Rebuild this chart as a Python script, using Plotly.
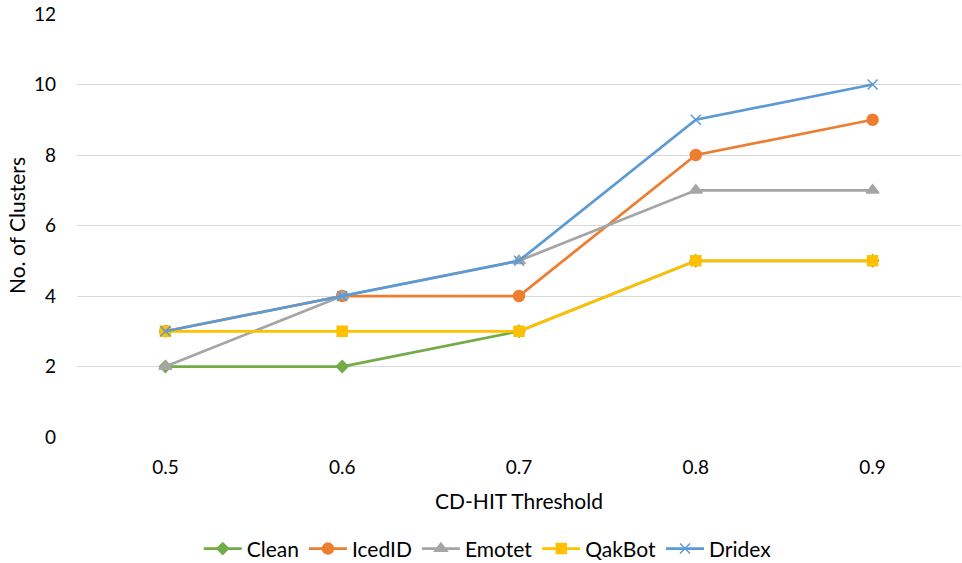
import plotly.graph_objects as go

thresholds = ["0.5", "0.6", "0.7", "0.8", "0.9"]
clean = [2, 2, 3, 5, 5]
icedid = [3, 4, 4, 8, 9]
emotet = [2, 4, 5, 7, 7]
qakbot = [3, 3, 3, 5, 5]
dridex = [3, 4, 5, 9, 10]

series = [
    ("Clean", clean, "#70AD47", "diamond", 9),
    ("IcedID", icedid, "#ED7D31", "circle", 11),
    ("Emotet", emotet, "#A5A5A5", "triangle-up", 11),
    ("QakBot", qakbot, "#FFC000", "square", 10),
    ("Dridex", dridex, "#5B9BD5", "x-thin", 10),
]

fig = go.Figure()
for name, vals, color, sym, size in series:
    fig.add_trace(go.Scatter(
        x=thresholds, y=vals, name=name, mode="lines+markers",
        line=dict(color=color, width=2.75),
        marker=dict(symbol=sym, size=size, color=color,
                    line=dict(color=color, width=1.5)),
    ))

family = "Lato, Carlito, sans-serif"
fig.update_layout(
    width=962, height=563,
    margin=dict(l=77, r=1, t=14, b=126),
    paper_bgcolor="white", plot_bgcolor="white",
    font=dict(family=family, size=18, color="#000000"),
    showlegend=True,
    legend=dict(orientation="h", xref="container", x=0.507, xanchor="center",
                yref="container", y=0.025, yanchor="middle",
                font=dict(family=family, size=21, color="#000000"),
                itemwidth=38, tracegroupgap=0),
    xaxis=dict(type="category", range=[-0.5, 4.5], showgrid=False,
               showline=False, zeroline=False, ticks="",
               tickfont=dict(size=19), ticklabelstandoff=17,
               title=dict(text="CD-HIT Threshold", standoff=17,
                          font=dict(size=21))),
    yaxis=dict(range=[0, 12], dtick=2, showgrid=True, gridcolor="#D9D9D9",
               gridwidth=1, zeroline=False, showline=False, ticks="",
               tickfont=dict(size=19), ticklabelstandoff=20,
               title=dict(text="No. of Clusters", standoff=2,
                          font=dict(size=21))),
)
fig.write_html("out.html")
